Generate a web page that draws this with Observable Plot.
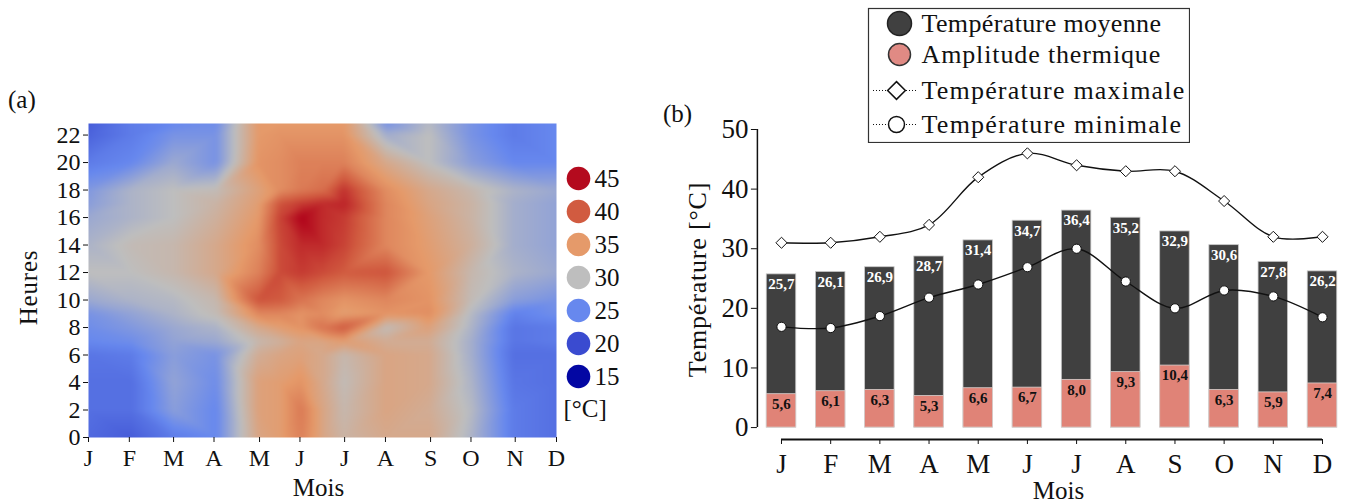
<!DOCTYPE html>
<html><head><meta charset="utf-8">
<script src="https://cdn.jsdelivr.net/npm/d3@7"></script>
<script src="https://cdn.jsdelivr.net/npm/@observablehq/plot@0.6"></script>
<style>
html,body{margin:0;padding:0;background:#fff;width:1350px;height:504px;overflow:hidden}
#root{position:relative;width:1350px;height:504px;font-family:"Liberation Serif",serif;color:#111}
#root svg{position:absolute;font-family:"Liberation Serif",serif}
.tag{position:absolute;font-size:25px;line-height:1}
.wide text{letter-spacing:.8px}
</style></head><body><div id="root"></div>
<script>
const months = ["J","F","M","A","M","J","J","A","S","O","N","D"];
const heatTicks = [0,0.96,2,2.95,4.02,4.97,6.02,6.98,8.04,8.99,10.03,11];
const hourTicks = [0,2,4,6,8,10,12,14,16,18,20,22];
const gridMonths = [0,1,2,3,4,4.5,5,5.5,6,7,8,9,10,11];
const gridHours = [0,2,4,6,7,8,9,10,12,14,16,17,18,20,22,22.84];
const t00 = [22.5,21.5,24,25,33.5,34.5,37,33.5,31.5,33,33,29,24,23];
const t02 = [23,23,27,25,34,34.5,37.5,33.5,31,33.5,32.5,29.5,24,23];
const t04 = [23,23,27.5,25.5,34,34.5,35.5,33,30.5,33.5,33,29,23.5,23];
const t06 = [23.5,24,27,26,32.5,33.5,34,33,31,33.5,33,28.5,23,23];
const t07 = [25,25.5,27.5,28,31,32,33.5,33.5,34.5,32.5,32.5,28.5,23.5,24];
const t08 = [25.5,26.5,28,29,33,34.5,35.5,38,40,30.5,34,29,23.5,24];
const t09 = [26,27.5,29,30.5,36.5,36.5,35.5,36,34.5,35.5,36,29.5,24.5,25.5];
const t10 = [28,29,29.5,31,40.5,40,38,36.5,35.5,36.5,35.5,30.5,27,26];
const t12 = [30,30,31,33,37,41,42,41,40,40.5,35,31,29,28];
const t14 = [29,30.5,31,33,36,41,43,43,41.5,36.5,34.5,32,28.5,27.5];
const t16 = [28,29,30,32,35,41.5,45.5,43,42,36.5,34,31.5,28.5,27.5];
const t17 = [27,29,30,31.5,34.5,40.5,42,43,43.5,36.5,33.5,31.5,28.5,27.5];
const t18 = [26.5,29,30,30.5,34,36,37.5,38.5,42.5,36,33,31,29,28];
const t20 = [24,25,28,26,35.5,36,37,37,37,33,30,27,25,25];
const t22 = [22,24,26,26,35,35.5,35.5,35.5,35.5,28.5,30,26,24,25];
const t23 = [21.5,24,25,25.5,35,35,35,35,35,26,29.5,26,24,25];
const heatRows = [t00,t02,t04,t06,t07,t08,t09,t10,t12,t14,t16,t17,t18,t20,t22,t23];
const legendTemps = [45,40,35,30,25,20,15];
const legendColors = ["#b40a1e","#d15b40","#e59a6a","#bebebe","#6788ee","#3a4bd0","#0307a3"];

const meanT = [25.7,26.1,26.9,28.7,31.4,34.7,36.4,35.2,32.9,30.6,27.8,26.2];
const ampT = [5.6,6.1,6.3,5.3,6.6,6.7,8.0,9.3,10.4,6.3,5.9,7.4];
const maxT = [31,31,32,34,42,46,44,43,43,38,32,32];
const minT = [16.9,16.7,18.7,21.8,24,26.9,30,24.5,20,23,22,18.5];
const legendLabels = ["Température moyenne","Amplitude thermique","Température maximale","Température minimale"];

const root = document.getElementById("root");
const place = (svg,l,t)=>{svg.style.left=l+"px";svg.style.top=t+"px";root.appendChild(svg);return svg;};
const tag = (s,l,t)=>{const d=document.createElement("div");d.className="tag";d.textContent=s;d.style.left=l+"px";d.style.top=t+"px";root.appendChild(d);};
const color = {type:"linear",domain:legendTemps.slice().reverse(),range:legendColors.slice().reverse()};
const ink = "#111";
const fmt = v=>v.toFixed(1).replace(".",",");

// (a) heat map
const heatPts = heatRows.flatMap((r,j)=>r.map((t,i)=>({m:gridMonths[i],h:gridHours[j],t})));
place(Plot.plot({
  width:572,height:504,marginLeft:88,marginRight:16,marginTop:123,marginBottom:67,
  x:{domain:[0,11]},y:{domain:[0,22.84]},color,
  marks:[
    Plot.raster(heatPts,{x:"m",y:"h",fill:"t",interpolate:"barycentric",pixelSize:1,blur:2}),
    Plot.axisX(heatTicks,{tickSize:5,tickPadding:6,fontSize:24,stroke:ink,fill:ink,tickFormat:d=>months[heatTicks.indexOf(d)],label:null}),
    Plot.axisY(hourTicks,{tickSize:5,tickPadding:3,fontSize:24,stroke:ink,fill:ink,label:null}),
    Plot.text(["Heures"],{frameAnchor:"left",textAnchor:"middle",rotate:-90,dx:-60,dy:7,fontSize:25,fill:ink,className:"wide"}),
    Plot.text(["Mois"],{frameAnchor:"bottom",dy:58,dx:-4,fontSize:25,fill:ink})
  ]
}),0,0);

// colour key of (a)
place(Plot.plot({
  width:60,height:265,margin:0,
  x:{domain:[0,60],range:[0,60],axis:null},
  y:{type:"point",padding:0,domain:legendTemps,range:[17,217],axis:null},color,
  marks:[
    Plot.dot(legendTemps,{x:()=>18,y:d=>d,r:11.8,fill:d=>d}),
    Plot.text(legendTemps,{x:()=>34,y:d=>d,text:d=>String(d),textAnchor:"start",fontSize:25,fill:ink}),
    Plot.text(["[°C]"],{frameAnchor:"bottom-left",dx:3,dy:-9,fontSize:25,fill:ink})
  ]
}),560,160);

// (b) bars and lines
const idx = d3.range(12);
place(Plot.plot({
  width:710,height:504,marginLeft:116.9,marginRight:3.9,marginTop:129,marginBottom:65,
  x:{domain:[-0.49,11.49]},y:{domain:[-2,50]},
  marks:[
    Plot.ruleX([-0.49],{y1:0,y2:50,stroke:ink,strokeWidth:1.5}),
    Plot.axisY([0,10,20,30,40,50],{tickSize:6,tickPadding:3,fontSize:27,stroke:ink,fill:ink,label:null}),
    Plot.ruleY([-2],{x1:0,x2:11,stroke:ink,strokeWidth:2}),
    Plot.axisX(idx,{tickSize:5,tickPadding:9,fontSize:27,stroke:ink,fill:ink,tickFormat:d=>months[d],label:null}),
    Plot.rectY(idx,{x1:d=>d-0.3,x2:d=>d+0.3,y1:()=>0,y2:d=>meanT[d],fill:"#404040",stroke:"#c8c8c8",strokeWidth:0.8}),
    Plot.rectY(idx,{x1:d=>d-0.3,x2:d=>d+0.3,y1:()=>0,y2:d=>ampT[d],fill:"#e08377",stroke:"#d8d0ce",strokeWidth:0.8}),
    Plot.text(idx,{x:d=>d,y:d=>meanT[d],text:d=>fmt(meanT[d]),dy:10,fontSize:15,fontWeight:"bold",fill:"white"}),
    Plot.text(idx,{x:d=>d,y:d=>ampT[d],text:d=>fmt(ampT[d]),dy:10,fontSize:15,fontWeight:"bold",fill:"#111"}),
    Plot.line(idx,{x:d=>d,y:d=>maxT[d],curve:"catmull-rom",stroke:"#111",strokeWidth:1.4}),
    Plot.line(idx,{x:d=>d,y:d=>minT[d],curve:"catmull-rom",stroke:"#111",strokeWidth:1.4}),
    Plot.dot(idx,{x:d=>d,y:d=>maxT[d],symbol:"diamond2",r:5,fill:"white",stroke:"#111",strokeWidth:1}),
    Plot.dot(idx,{x:d=>d,y:d=>minT[d],r:4.6,fill:"white",stroke:"#111",strokeWidth:1}),
    Plot.text(["Température [°C]"],{frameAnchor:"left",textAnchor:"middle",rotate:-90,dx:-60,dy:-5,fontSize:26,fill:ink,className:"wide"}),
    Plot.text(["Mois"],{frameAnchor:"bottom",dy:59,dx:6.5,fontSize:25,fill:ink})
  ]
}),640,0);

// legend of (b)
const rows = [0,0.92,1.99,3];
const legendSvg = place(Plot.plot({
  width:323,height:136,margin:1,
  x:{domain:[0,321],range:[1,322],axis:null},
  y:{domain:[0,3],range:[16,117],axis:null},
  marks:[
    Plot.frame({stroke:"#333",strokeWidth:1.2}),
    Plot.dot([0],{x:()=>31,y:d=>rows[d],r:12,fill:"#404040",stroke:"#222"}),
    Plot.dot([1],{x:()=>31,y:d=>rows[d],r:11,fill:"#e08a84",stroke:"#333"}),
    Plot.ruleY([2,3],{x1:()=>5,x2:()=>48,y:d=>rows[d],stroke:"#111",strokeDasharray:"1 2"}),
    Plot.dot([2],{x:()=>28,y:d=>rows[d],symbol:"diamond2",r:8,fill:"white",stroke:"#111"}),
    Plot.dot([3],{x:()=>28,y:d=>rows[d],r:8,fill:"white",stroke:"#111"}),
    Plot.text(legendLabels,{x:()=>53,y:(d,i)=>rows[i],text:d=>d,textAnchor:"start",fontSize:26,fill:ink})
  ]
}),867,7);
const spacing = [0.37,0.87,1.2,1.26];
legendSvg.querySelectorAll("text").forEach((t,i)=>{t.style.letterSpacing=spacing[i]+"px";});

tag("(a)",8,87);
tag("(b)",663,101);
</script></body></html>
